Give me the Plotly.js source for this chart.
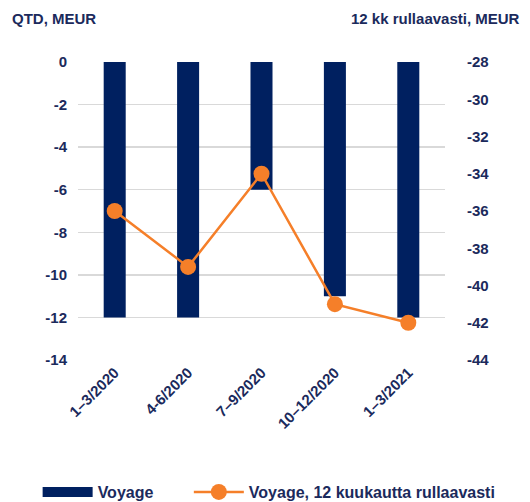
<!DOCTYPE html>
<html><head><meta charset="utf-8">
<script src="https://cdn.plot.ly/plotly-3.0.1.min.js"></script>
<style>html,body{margin:0;padding:0;background:#fff}</style>
</head><body>
<div id="chart" style="width:530px;height:502px"></div>
<script>
const categories = ["1–3/2020", "4-6/2020", "7–9/2020", "10–12/2020", "1–3/2021"];
const voyageQTD = [-12, -12, -6, -11, -12];
const voyageRolling = [-36, -39, -34, -41, -42];
const leftTicks = [0, -2, -4, -6, -8, -10, -12, -14];
const rightTicks = [-28, -30, -32, -34, -36, -38, -40, -42, -44];

const navy = "#002060";
const orange = "#F57F29";
const txt = "#1B2A5C";
const fam = "'Liberation Sans', Arial, sans-serif";
const font = {family: fam, size: 15, color: txt, weight: "bold"};
const legFont = {family: fam, size: 16, color: txt, weight: "bold"};

const data = [
  {type: "bar", name: "Voyage", x: categories, y: voyageQTD, marker: {color: navy}, width: 0.3, showlegend: false},
  {type: "scatter", mode: "lines", name: "Voyage", x: [null], y: [null], line: {color: navy, width: 11}, showlegend: true, legend: "legend"},
  {type: "scatter", mode: "lines+markers", name: "Voyage, 12 kuukautta rullaavasti", x: categories, y: voyageRolling,
   yaxis: "y2", line: {color: orange, width: 2.5}, marker: {color: orange, size: 16}, legend: "legend2"}
];
const layout = {
  width: 530, height: 502,
  margin: {l: 78, r: 85, t: 62, b: 142, autoexpand: false},
  paper_bgcolor: "#fff", plot_bgcolor: "#fff",
  font: font,
  showlegend: true,
  xaxis: {tickangle: -45, tickfont: {family: fam, size: 15, color: txt, weight: "bold"}, showgrid: false, zeroline: false, showline: false, ticks: "", automargin: false},
  yaxis: {range: [-14, 0], tickvals: leftTicks, ticktext: leftTicks.map(String), showgrid: true, gridcolor: "#D9D9D9", gridwidth: 1.5, zeroline: false,
          tickfont: font, ticks: "", ticklabelstandoff: 10, automargin: false},
  yaxis2: {range: [-44, -28], tickvals: rightTicks, ticktext: rightTicks.map(String), overlaying: "y", side: "right", showgrid: false, zeroline: false,
           tickfont: font, ticks: "", ticklabelstandoff: 21, automargin: false},
  legend: {orientation: "h", x: -0.11, xanchor: "left", y: -0.443, yanchor: "middle", font: legFont, itemwidth: 50},
  legend2: {orientation: "h", x: 0.302, xanchor: "left", y: -0.443, yanchor: "middle", font: legFont, itemwidth: 50},
  annotations: [
    {text: "QTD, MEUR", xref: "paper", yref: "paper", x: -0.185, xanchor: "left", y: 1.145, yanchor: "middle", showarrow: false, font: font},
    {text: "12 kk rullaavasti, MEUR", xref: "paper", yref: "paper", x: 1.21, xanchor: "right", y: 1.145, yanchor: "middle", showarrow: false, font: font}
  ]
};
Plotly.newPlot("chart", data, layout, {displayModeBar: false, staticPlot: true});
</script>
</body></html>
